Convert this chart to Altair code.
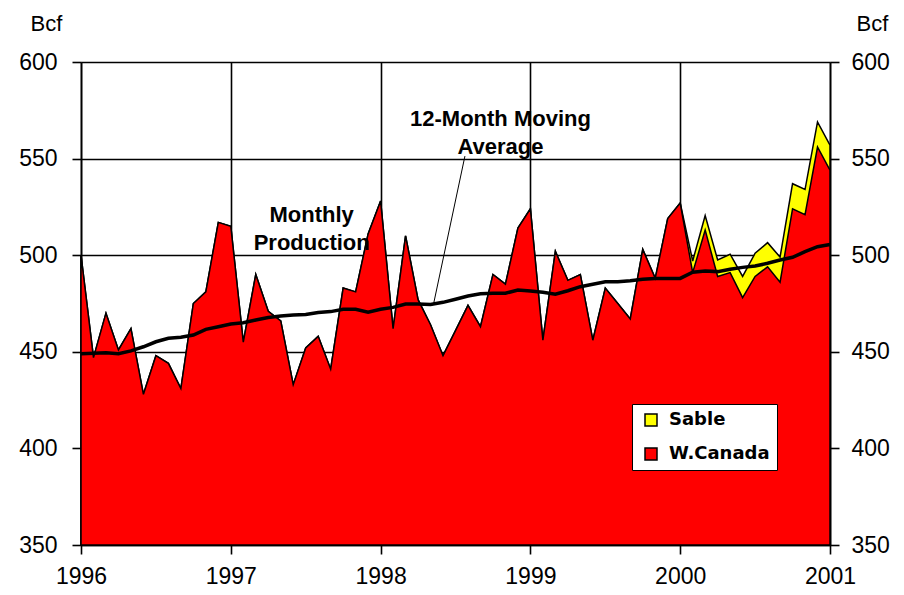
import altair as alt
import pandas as pd

# ---- data ----
years = [1996, 1997, 1998, 1999, 2000, 2001]
y_ticks = [350, 400, 450, 500, 550, 600]
series_names = ["Sable", "W.Canada"]
series_colors = ["#FFFF00", "#FF0000"]

# monthly W. Canada production, Jan 1996 .. Jan 2001 (Bcf)
wcanada = [500, 447, 470, 451, 462, 428, 448, 444, 431, 475, 481, 517,
           515, 455, 490, 471, 466, 433, 452, 458, 441, 483, 481, 511,
           528, 462, 510, 477, 464, 448, 461, 474, 463, 490, 485, 514,
           524, 456, 502, 487, 490, 456, 483, 475, 467, 503, 488, 519,
           527, 491, 513, 489, 491, 478, 489, 494, 486, 524, 521, 556,
           544]
# monthly Sable production (Bcf)
sable = [0] * 49 + [6, 7.5, 8.5, 9.5, 11, 12, 12.5, 13, 13, 13, 13, 13]
# 12-month moving average of total production (Bcf)
moving_avg = [449, 449.2, 449.5, 449, 450.5, 452.6, 455.2, 457, 457.5, 458.7, 461.6, 463,
              464.4, 465, 466.5, 467.7, 468.5, 469, 469.3, 470.3, 470.8, 472, 472, 470.5,
              472, 473, 474.7, 474.7, 474.5, 475.6, 477.2, 478.9, 480, 480.3, 480.3, 482,
              481.5, 480.8, 479.8, 481.6, 483.7, 485, 486.3, 486.3, 486.8, 487.5, 488, 488,
              488, 491.2, 491.8, 491.5, 492.7, 493.7, 494.4, 495.8, 497.5, 498.9, 501.8, 504.4,
              505.5]

months = list(range(len(wcanada)))
df = pd.DataFrame({
    "t": [1996 + m / 12 for m in months],
    "wc": wcanada,
    "total": [w + s for w, s in zip(wcanada, sable)],
    "ma": moving_avg,
})

FONT = "Liberation Sans"
yscale = alt.Scale(domain=[350, 600], nice=False, zero=False)
xscale = alt.Scale(domain=[1996, 2001], nice=False, zero=False)

x_axis = alt.Axis(values=years, format="d", grid=True, gridColor="black", gridWidth=1.6,
                  gridOpacity=1, tickSize=9, tickColor="black", tickWidth=1.6,
                  domainColor="black", domainWidth=1.6, labelFontSize=23, labelFont=FONT,
                  labelColor="black", labelPadding=11, title=None, labelFlush=False)
X = alt.X("t:Q", scale=xscale, axis=x_axis)

left_axis = alt.Axis(values=y_ticks, grid=True, gridColor="black", gridWidth=1.6, gridOpacity=1,
                     tickSize=9, tickColor="black", tickWidth=1.6, domainColor="black",
                     domainWidth=1.6, labelFontSize=23, labelFont=FONT, labelColor="black",
                     labelPadding=15, title="Bcf", titleAngle=0, titleFontSize=22,
                     titleFont=FONT, titleFontWeight="normal", titleColor="black",
                     titleAlign="center", titleBaseline="alphabetic", titleX=-35, titleY=-32,
                     labelFlush=False)
right_axis = alt.Axis(orient="right", values=y_ticks, grid=False, tickSize=9, tickColor="black",
                      tickWidth=1.6, domainColor="black", domainWidth=1.6, labelFontSize=23,
                      labelFont=FONT, labelColor="black", labelPadding=12, title="Bcf",
                      titleAngle=0, titleFontSize=22, titleFont=FONT, titleFontWeight="normal",
                      titleColor="black", titleAlign="center", titleBaseline="alphabetic",
                      titleX=42, titleY=-32, labelFlush=False)

color = alt.Color("series:N",
                  scale=alt.Scale(domain=series_names, range=series_colors),
                  legend=alt.Legend(orient="none", legendX=551, legendY=342, title=None,
                                    fillColor="white", strokeColor="black",
                                    symbolType="square", symbolSize=144,
                                    symbolStrokeColor="black", symbolStrokeWidth=1.5,
                                    symbolOpacity=1, symbolOffset=3,
                                    labelFont="DejaVu Sans", labelFontSize=18,
                                    labelFontWeight="bold", labelColor="black",
                                    labelOffset=9, padding=7, rowPadding=16))

base = alt.Chart(df)

sable_area = base.transform_calculate(series="'Sable'").mark_area(
    stroke="black", strokeWidth=1.5, opacity=1, fillOpacity=1
).encode(x=X, y=alt.Y("total:Q", scale=yscale, axis=None, stack=None),
         y2=alt.datum(350), color=color)

wc_area = base.transform_calculate(series="'W.Canada'").mark_area(
    stroke="black", strokeWidth=1.5, opacity=1, fillOpacity=1
).encode(x=X, y=alt.Y("wc:Q", scale=yscale, axis=left_axis, stack=None),
         y2=alt.datum(350), color=color)

ma_line = base.mark_line(color="black", strokeWidth=3.5).encode(
    x=X, y=alt.Y("ma:Q", scale=yscale, axis=right_axis))

leader = alt.Chart(df.head(1)).mark_rule(color="black", strokeWidth=1).encode(
    x=alt.datum(1998.563, scale=xscale, axis=x_axis), x2=alt.datum(1998.352),
    y=alt.datum(551.3, scale=yscale, axis=None), y2=alt.datum(474.2))

ma_text = alt.Chart(df.head(1)).mark_text(
    font=FONT, fontSize=22, fontWeight="bold", color="black", align="center",
    baseline="alphabetic", lineHeight=28
).encode(x=alt.datum(1998.80, scale=xscale, axis=x_axis),
         y=alt.datum(566.9, scale=yscale, axis=None),
         text=alt.value(["12-Month Moving", "Average"]))

mp_text = alt.Chart(df.head(1)).mark_text(
    font=FONT, fontSize=22, fontWeight="bold", color="black", align="center",
    baseline="alphabetic", lineHeight=28
).encode(x=alt.datum(1997.54, scale=xscale, axis=x_axis),
         y=alt.datum(517.2, scale=yscale, axis=None),
         text=alt.value(["Monthly", "Production"]))

chart = alt.layer(sable_area, wc_area, ma_line, leader, ma_text, mp_text).resolve_scale(
    y="independent"
).properties(
    width=749, height=483,
    autosize=alt.AutoSizeParams(type="none"),
    padding={"left": 81, "top": 62, "right": 74, "bottom": 50},
    background="white",
).configure_view(stroke=None)

chart.save("out.html", embed_options={"renderer": "svg", "actions": False})
